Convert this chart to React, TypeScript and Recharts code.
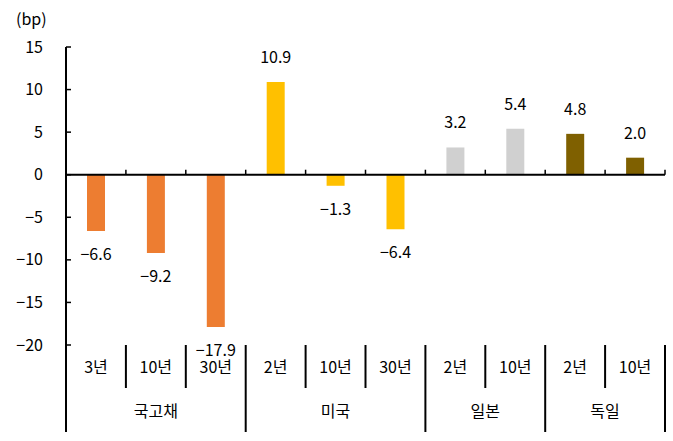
import { BarChart, Bar, XAxis, YAxis, Cell, LabelList, ReferenceLine } from 'recharts';

const categories = ['3년', '10년', '30년', '2년', '10년', '30년', '2년', '10년', '2년', '10년'];
const groups = ['국고채', '국고채', '국고채', '미국', '미국', '미국', '일본', '일본', '독일', '독일'];
const values = [-6.6, -9.2, -17.9, 10.9, -1.3, -6.4, 3.2, 5.4, 4.8, 2.0];
const yTicks = [-20, -15, -10, -5, 0, 5, 10, 15];

const GROUP_COLORS: Record<string, string> = {
  국고채: '#ED7D31',
  미국: '#FFC000',
  일본: '#D0D0D0',
  독일: '#7F6000',
};

const data = categories.map((c, i) => ({ key: i, name: c, group: groups[i], value: values[i] }));

const FONT = '"Noto Sans CJK KR", "Noto Sans", sans-serif';
const W = 673;
const H = 441;
const MARGIN = { top: 47, right: 8, bottom: 6, left: 6 };
const Y_AXIS_W = 60;
const X_AXIS_H = 90;
const PLOT_H = H - MARGIN.top - MARGIN.bottom - X_AXIS_H;
const DOMAIN: [number, number] = [-20, 15];
const BAND = (W - MARGIN.left - MARGIN.right - Y_AXIS_W) / categories.length;

const YTick = (props: any) => {
  const { x, y, payload } = props;
  return (
    <g>
      <line x1={x} x2={x + 5} y1={y} y2={y} stroke="#000" strokeWidth={1.5} />
      <text x={x - 23} y={y} dy="0.35em" textAnchor="end" fontSize={16} fontFamily={FONT} fill="#000">
        {payload.value < 0 ? '\u2212' + Math.abs(payload.value) : payload.value}
      </text>
    </g>
  );
};

const XTick = (props: any) => {
  const { x, y, index } = props;
  const left = x - BAND / 2;
  const right = x + BAND / 2;
  const zeroY = y - (PLOT_H * (0 - DOMAIN[0])) / (DOMAIN[1] - DOMAIN[0]);
  const isGroupStart = index === 0 || groups[index] !== groups[index - 1];
  const isLast = index === categories.length - 1;
  let groupLabel = null;
  if (isGroupStart) {
    let end = index;
    while (end + 1 < groups.length && groups[end + 1] === groups[index]) end++;
    const cx = left + ((end - index + 1) * BAND) / 2;
    groupLabel = (
      <text x={cx} y={y + 72} textAnchor="middle" fontSize={16} fontFamily={FONT} fill="#000">
        {groups[index]}
      </text>
    );
  }
  return (
    <g>
      <line x1={left} x2={left} y1={y} y2={isGroupStart ? y + 87 : y + 43} stroke="#000" strokeWidth={2} />
      {isLast && <line x1={right} x2={right} y1={y} y2={y + 87} stroke="#000" strokeWidth={2} />}
      <line x1={right} x2={right} y1={zeroY} y2={zeroY - 5} stroke="#000" strokeWidth={1.5} />
      <text x={x} y={y + 28} textAnchor="middle" fontSize={16} fontFamily={FONT} fill="#000">
        {categories[index]}
      </text>
      {groupLabel}
    </g>
  );
};

const ValueLabel = (props: any) => {
  const { x, y, width, height, value } = props;
  const cx = x + width / 2;
  const neg = value < 0;
  const edge = neg ? y + height : y;
  const ty = neg ? Math.max(y, y + height) + 29 : Math.min(y, y + height) - 19;
  const txt = neg ? '\u2212' + Math.abs(value).toFixed(1) : value.toFixed(1);
  void edge;
  return (
    <text x={cx} y={ty} textAnchor="middle" fontSize={16} fontFamily={FONT} fill="#000">
      {txt}
    </text>
  );
};

export default function App() {
  return (
    <div style={{ position: 'fixed', left: 0, top: 0, width: W, height: H, background: '#fff' }}>
      <div
        style={{
          position: 'absolute',
          left: 16,
          top: 6,
          fontSize: 16,
          fontFamily: FONT,
          lineHeight: '24px',
        }}
      >
        (bp)
      </div>
      <BarChart width={W} height={H} data={data} margin={MARGIN} barCategoryGap={0}>
        <YAxis
          type="number"
          domain={DOMAIN}
          ticks={yTicks}
          interval={0}
          width={Y_AXIS_W}
          axisLine={{ stroke: '#000', strokeWidth: 2 }}
          tickLine={false}
          tickSize={0}
          tickMargin={0}
          tick={<YTick />}
          allowDataOverflow
        />
        <XAxis
          dataKey="key"
          type="category"
          height={X_AXIS_H}
          axisLine={false}
          tickLine={false}
          tickSize={0}
          tickMargin={0}
          interval={0}
          tick={<XTick />}
        />
        <ReferenceLine y={0} stroke="#000" strokeWidth={2} />
        <Bar dataKey="value" barSize={18} isAnimationActive={false}>
          {data.map((d) => (
            <Cell key={d.key} fill={GROUP_COLORS[d.group]} />
          ))}
          <LabelList dataKey="value" content={<ValueLabel />} />
        </Bar>
      </BarChart>
    </div>
  );
}
